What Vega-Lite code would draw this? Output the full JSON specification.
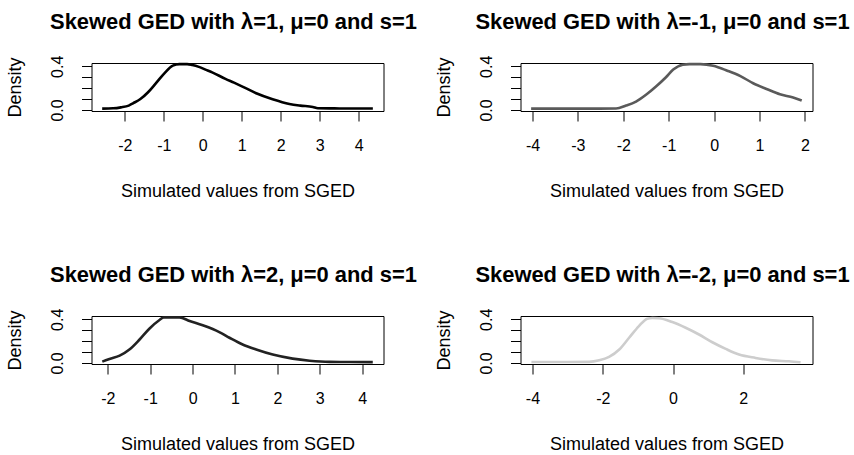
{
  "$schema": "https://vega.github.io/schema/vega-lite/v6.json",
  "autosize": {"type": "pad"},
  "padding": {"left": 5.5, "top": 10, "right": 0, "bottom": 0},
  "background": "white",
  "datasets": {
    "p1": [
      {"x": -2.58, "density": 0.012}, {"x": -2.3, "density": 0.015}, {"x": -2.1, "density": 0.024}, {"x": -1.9, "density": 0.04},
      {"x": -1.79, "density": 0.061}, {"x": -1.6, "density": 0.1}, {"x": -1.41, "density": 0.16}, {"x": -1.2, "density": 0.246},
      {"x": -0.98, "density": 0.338}, {"x": -0.77, "density": 0.406}, {"x": -0.6, "density": 0.42}, {"x": -0.4, "density": 0.42},
      {"x": -0.27, "density": 0.412}, {"x": -0.1, "density": 0.395}, {"x": 0.1, "density": 0.365}, {"x": 0.24, "density": 0.345},
      {"x": 0.58, "density": 0.285}, {"x": 0.8, "density": 0.25}, {"x": 1.03, "density": 0.212}, {"x": 1.37, "density": 0.153},
      {"x": 1.79, "density": 0.098}, {"x": 2.22, "density": 0.055}, {"x": 2.5, "density": 0.04}, {"x": 2.82, "density": 0.028},
      {"x": 2.95, "density": 0.016}, {"x": 3.5, "density": 0.014}, {"x": 4.0, "density": 0.013}, {"x": 4.36, "density": 0.013}
    ],
    "p2": [
      {"x": -4.03, "density": 0.012}, {"x": -3.0, "density": 0.012}, {"x": -2.16, "density": 0.013}, {"x": -1.94, "density": 0.04},
      {"x": -1.72, "density": 0.077}, {"x": -1.5, "density": 0.139}, {"x": -1.28, "density": 0.215}, {"x": -1.06, "density": 0.3},
      {"x": -0.9, "density": 0.37}, {"x": -0.69, "density": 0.415}, {"x": -0.54, "density": 0.42}, {"x": -0.3, "density": 0.42},
      {"x": -0.02, "density": 0.405}, {"x": 0.29, "density": 0.36}, {"x": 0.58, "density": 0.31}, {"x": 0.86, "density": 0.245},
      {"x": 1.17, "density": 0.19}, {"x": 1.45, "density": 0.144}, {"x": 1.74, "density": 0.114}, {"x": 1.93, "density": 0.086}
    ],
    "p3": [
      {"x": -2.13, "density": 0.012}, {"x": -1.96, "density": 0.037}, {"x": -1.72, "density": 0.067}, {"x": -1.49, "density": 0.123},
      {"x": -1.25, "density": 0.215}, {"x": -1.02, "density": 0.314}, {"x": -0.78, "density": 0.394}, {"x": -0.68, "density": 0.418},
      {"x": -0.31, "density": 0.418}, {"x": -0.07, "density": 0.385}, {"x": 0.24, "density": 0.345}, {"x": 0.63, "density": 0.283},
      {"x": 0.87, "density": 0.231}, {"x": 1.18, "density": 0.169}, {"x": 1.5, "density": 0.123}, {"x": 1.89, "density": 0.077},
      {"x": 2.36, "density": 0.04}, {"x": 2.76, "density": 0.021}, {"x": 3.23, "density": 0.01}, {"x": 3.7, "density": 0.009},
      {"x": 4.25, "density": 0.008}
    ],
    "p4": [
      {"x": -4.03, "density": 0.009}, {"x": -3.0, "density": 0.009}, {"x": -2.39, "density": 0.01}, {"x": -2.1, "density": 0.024},
      {"x": -1.82, "density": 0.055}, {"x": -1.53, "density": 0.123}, {"x": -1.25, "density": 0.231}, {"x": -0.97, "density": 0.338},
      {"x": -0.73, "density": 0.406}, {"x": -0.59, "density": 0.412}, {"x": -0.4, "density": 0.41}, {"x": -0.02, "density": 0.375},
      {"x": 0.36, "density": 0.323}, {"x": 0.74, "density": 0.261}, {"x": 1.12, "density": 0.19}, {"x": 1.5, "density": 0.129},
      {"x": 1.88, "density": 0.077}, {"x": 2.35, "density": 0.046}, {"x": 2.82, "density": 0.024}, {"x": 3.3, "density": 0.015},
      {"x": 3.63, "density": 0.006}
    ]
  },
  "columns": 2,
  "bounds": "flush",
  "spacing": {"column": 137, "row": 205},
  "concat": [
    {
      "width": 292, "height": 48,
      "title": {"text": "Skewed GED with λ=1, μ=0 and s=1"},
      "data": {"name": "p1"},
      "mark": {"type": "line", "color": "#000000", "strokeWidth": 2.6, "interpolate": "monotone"},
      "encoding": {
        "x": {"field": "x", "type": "quantitative", "scale": {"domain": [-2.854, 4.633], "nice": false, "zero": false},
              "axis": {"values": [-2, -1, 0, 1, 2, 3, 4], "title": "Simulated values from SGED"}},
        "y": {"field": "density", "type": "quantitative", "scale": {"domain": [-0.0095, 0.4305], "nice": false, "zero": false},
              "axis": {"values": [0, 0.1, 0.2, 0.3, 0.4], "title": "Density"}}
      }
    },
    {
      "width": 292, "height": 48,
      "title": {"text": "Skewed GED with λ=-1, μ=0 and s=1"},
      "data": {"name": "p2"},
      "mark": {"type": "line", "color": "#5a5a5a", "strokeWidth": 2.6, "interpolate": "monotone"},
      "encoding": {
        "x": {"field": "x", "type": "quantitative", "scale": {"domain": [-4.264, 2.167], "nice": false, "zero": false},
              "axis": {"values": [-4, -3, -2, -1, 0, 1, 2], "title": "Simulated values from SGED"}},
        "y": {"field": "density", "type": "quantitative", "scale": {"domain": [-0.0095, 0.4305], "nice": false, "zero": false},
              "axis": {"values": [0, 0.1, 0.2, 0.3, 0.4], "title": "Density"}}
      }
    },
    {
      "width": 292, "height": 48,
      "title": {"text": "Skewed GED with λ=2, μ=0 and s=1"},
      "data": {"name": "p3"},
      "mark": {"type": "line", "color": "#222222", "strokeWidth": 2.6, "interpolate": "monotone"},
      "encoding": {
        "x": {"field": "x", "type": "quantitative", "scale": {"domain": [-2.384, 4.503], "nice": false, "zero": false},
              "axis": {"values": [-2, -1, 0, 1, 2, 3, 4], "title": "Simulated values from SGED"}},
        "y": {"field": "density", "type": "quantitative", "scale": {"domain": [-0.0095, 0.4305], "nice": false, "zero": false},
              "axis": {"values": [0, 0.1, 0.2, 0.3, 0.4], "title": "Density"}}
      }
    },
    {
      "width": 292, "height": 48,
      "title": {"text": "Skewed GED with λ=-2, μ=0 and s=1"},
      "data": {"name": "p4"},
      "mark": {"type": "line", "color": "#cdcdcd", "strokeWidth": 2.6, "interpolate": "monotone"},
      "encoding": {
        "x": {"field": "x", "type": "quantitative", "scale": {"domain": [-4.341, 3.97], "nice": false, "zero": false},
              "axis": {"values": [-4, -2, 0, 2], "title": "Simulated values from SGED"}},
        "y": {"field": "density", "type": "quantitative", "scale": {"domain": [-0.0095, 0.4305], "nice": false, "zero": false},
              "axis": {"values": [0, 0.1, 0.2, 0.3, 0.4], "title": "Density"}}
      }
    }
  ],
  "config": {
    "font": "Liberation Sans",
    "view": {"stroke": "#000000", "strokeWidth": 1},
    "title": {"font": "Liberation Sans", "fontSize": 21.9, "fontWeight": "bold", "color": "#000000", "anchor": "middle", "baseline": "alphabetic", "offset": 21, "dx": -4},
    "axis": {"grid": false, "domain": false, "ticks": true, "tickColor": "#000000", "tickSize": 10, "tickWidth": 1,
             "labelFont": "Liberation Sans", "labelFontSize": 16, "labelColor": "#000000", "labelOverlap": false, "labelFlush": false,
             "titleFont": "Liberation Sans", "titleFontSize": 18, "titleFontWeight": "normal", "titleColor": "#000000"},
    "axisX": {"labelBaseline": "alphabetic", "labelPadding": 29.4, "labelExpr": "'' + datum.value",
              "titleX": 146, "titleY": 85.5, "titleBaseline": "alphabetic", "titleAlign": "center"},
    "axisY": {"labelAngle": 270, "labelAlign": "center", "labelBaseline": "alphabetic", "labelPadding": 18.7,
              "labelExpr": "datum.value === 0 ? '0.0' : (datum.value === 0.4 ? '0.4' : '')",
              "titleX": -70.8, "titleY": 24, "titleAngle": 270, "titleBaseline": "alphabetic", "titleAlign": "center"}
  }
}
